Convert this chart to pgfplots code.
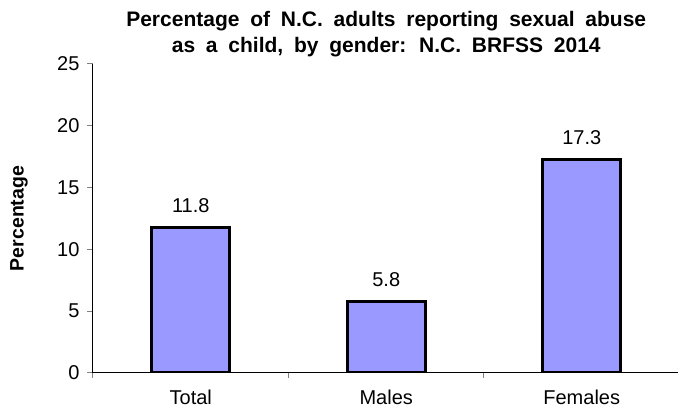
\documentclass[border=0pt]{standalone}
\usepackage{fontspec}
\setmainfont{Liberation Sans}
\newfontfamily\titlefont{Liberation Sans}[WordSpace=1.85]
\usepackage{pgfplots}
\pgfplotsset{compat=1.18}
\definecolor{barfill}{HTML}{9999FF}
\begin{document}
\begin{tikzpicture}
\useasboundingbox (-93pt,-36pt) rectangle (585pt,373pt);
\begin{axis}[
  at={(0,0)}, anchor=south west,
  scale only axis, width=586.5pt, height=309pt,
  xmin=-0.5, xmax=2.5, ymin=0, ymax=25,
  axis x line*=bottom, axis y line*=left,
  axis line style={-, line width=1pt, black},
  font=\fontsize{20}{23}\selectfont,
  /pgf/number format/assume math mode=true,
  ytick={0,5,10,15,20,25},
  xtick={0,1,2}, xticklabels={Total,Males,Females},
  minor xtick={-0.5,0.5,1.5,2.5},
  tick align=outside,
  major tick length=6pt, minor tick length=5pt,
  major x tick style={draw=none},
  minor x tick style={gray, line width=1pt},
  major y tick style={gray, line width=1pt},
  yticklabel style={xshift=-4pt},
  xticklabel style={yshift=-7.5pt},
  title={Percentage of N.C. adults reporting sexual abuse\\as a child, by gender: N.C. BRFSS 2014},
  title style={at={(axis description cs:0.5,1)}, anchor=south, yshift=-2pt, align=center,
    font=\fontsize{21}{26}\titlefont\bfseries},
  ylabel={Percentage},
  ylabel style={at={(axis description cs:-0.126,0.5)}, anchor=center, font=\fontsize{19.5}{23}\selectfont\bfseries},
  ybar, bar width=78pt,
  nodes near coords,
  nodes near coords style={/pgf/number format/fixed, /pgf/number format/fixed zerofill, /pgf/number format/precision=1},
  every node near coord/.append style={anchor=base, yshift=15pt, black},
]
\addplot[draw=black, line width=3pt, fill=barfill] coordinates {(0,11.8) (1,5.8) (2,17.3)};
\end{axis}
\end{tikzpicture}
\end{document}
